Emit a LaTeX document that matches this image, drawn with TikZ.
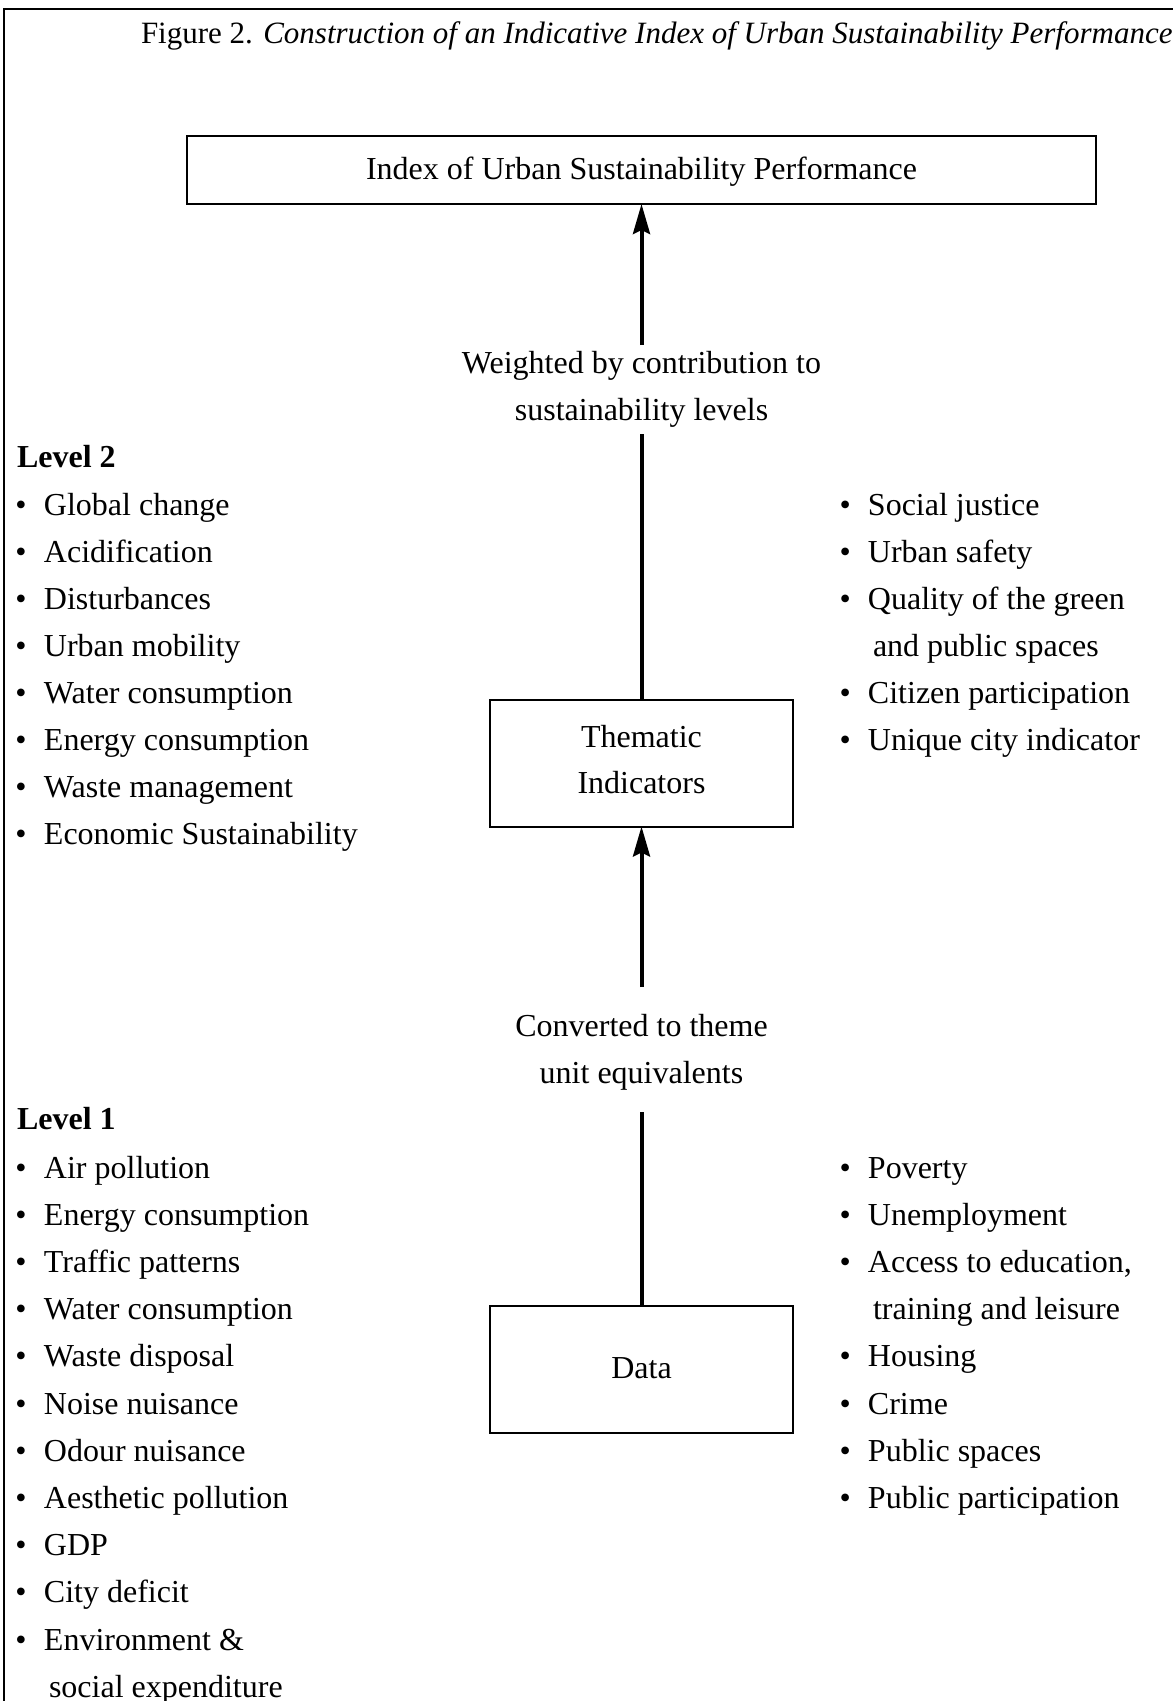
\documentclass[tikz,border=0pt]{standalone}
\usepackage{fontspec}
\setmainfont{Liberation Serif}
\usetikzlibrary{arrows.meta}
\newcommand\bul{\makebox[28.5pt][l]{•}}
\begin{document}
\begin{tikzpicture}[x=1pt,y=-1pt,
  every node/.style={inner sep=0pt, outer sep=0pt, font=\fontsize{32}{46}\selectfont},
  box/.style={draw, line width=2pt, text height=22pt, text depth=4pt},
  item/.style={anchor=base west},
  flowline/.style={line width=4pt},
  flowarrow/.style={line width=4pt, -{Stealth[length=30pt,width=17pt,inset=4pt]}},
]
\useasboundingbox (0,0) rectangle (1173,1701);
% open frame (left and top edges)
\draw[line width=2pt] (4,1701) -- (4,9) -- (1173,9);

% caption
\node[item, font=\fontsize{31}{40}\selectfont] (caption) at (141,43)
  {Figure 2. \textit{Construction of an Indicative Index of Urban Sustainability Performance}};

% boxes
\node[box, minimum width=909pt, minimum height=68pt] (index) at (641.5,170)
  {Index of Urban Sustainability Performance};
\node[draw, line width=2pt, minimum width=303pt, minimum height=127pt] (them) at (641.5,763) {};
\node[anchor=base] (them1) at (641.5,747) {Thematic};
\node[anchor=base] (them2) at (641.5,793) {Indicators};
\node[box, minimum width=303pt, minimum height=127pt] (data) at (641.5,1369.5) {Data};

% connector labels
\node[anchor=base] (w1) at (641.5,373) {Weighted by contribution to};
\node[anchor=base] (w2) at (641.5,420) {sustainability levels};
\node[anchor=base] (c1) at (641.5,1036) {Converted to theme};
\node[anchor=base] (c2) at (641.5,1083) {unit equivalents};

% connectors, interrupted by their labels
\coordinate (g1top) at (641.5,345);
\coordinate (g1bot) at (641.5,434);
\coordinate (g2top) at (641.5,987);
\coordinate (g2bot) at (641.5,1112);
\draw[flowarrow] (g1top) -- (index.south);
\draw[flowline] (them.north) -- (g1bot);
\draw[flowarrow] (g2top) -- (them.south);
\draw[flowline] (data.north) -- (g2bot);

% Level 2
\node[item] (lev2) at (17,467) {\textbf{Level 2}};
\foreach \r/\t in {0/Global change, 1/Acidification, 2/Disturbances, 3/Urban mobility,
                   4/Water consumption, 5/Energy consumption, 6/Waste management,
                   7/Economic Sustainability}
  \node[item] (l2a-\r) at (15.5,{515+47.14*\r}) {\bul\t};
\foreach \r/\t in {0/Social justice, 1/Urban safety, 2/Quality of the green,
                   4/Citizen participation, 5/Unique city indicator}
  \node[item] (l2b-\r) at (839.5,{515+47.14*\r}) {\bul\t};
\node[item] (l2b-3) at (873,{515+47.14*3}) {and public spaces};

% Level 1
\node[item] (lev1) at (17,1129) {\textbf{Level 1}};
\foreach \r/\t in {0/Air pollution, 1/Energy consumption, 2/Traffic patterns,
                   3/Water consumption, 4/Waste disposal, 5/Noise nuisance,
                   6/Odour nuisance, 7/Aesthetic pollution, 8/GDP, 9/City deficit,
                   10/Environment \&}
  \node[item] (l1a-\r) at (15.5,{1178+47.2*\r}) {\bul\t};
\node[item] (l1a-11) at (49,{1178+47.2*11}) {social expenditure};
\foreach \r/\t in {0/Poverty, 1/Unemployment, 2/{Access to education,},
                   4/Housing, 5/Crime, 6/Public spaces, 7/Public participation}
  \node[item] (l1b-\r) at (839.5,{1178+47.2*\r}) {\bul\t};
\node[item] (l1b-3) at (873,{1178+47.2*3}) {training and leisure};
\end{tikzpicture}
\end{document}
